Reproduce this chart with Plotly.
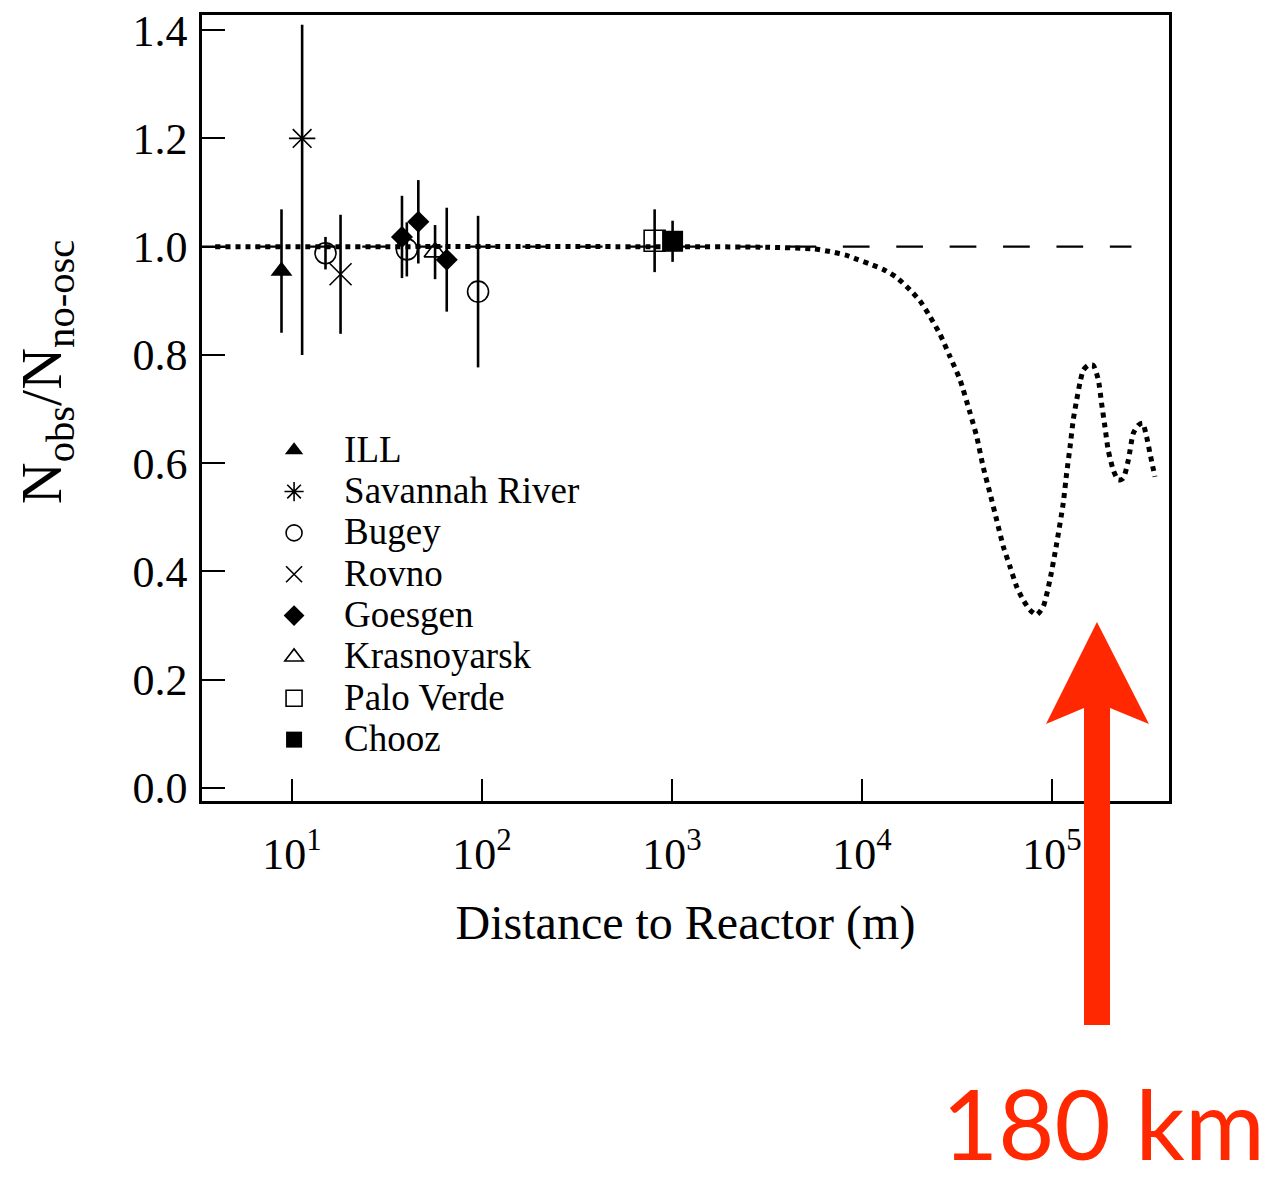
import plotly.graph_objects as go

# ---------------- data ----------------
experiments = ["ILL", "Savannah River", "Bugey", "Rovno", "Goesgen",
               "Krasnoyarsk", "Palo Verde", "Chooz"]

ill_x = [8.8];        ill_y = [0.955];  ill_err = [0.114]
sr_x = [11.3];        sr_y = [1.20];    sr_err_plus = [0.21]; sr_err_minus = [0.40]
bugey_x = [15.0, 40.2, 95.3]; bugey_y = [0.988, 0.995, 0.917]; bugey_err = [0.03, 0.05, 0.14]
rovno_x = [18.0];     rovno_y = [0.949]; rovno_err = [0.11]
goesgen_x = [37.9, 46.2, 65.2]; goesgen_y = [1.018, 1.046, 0.976]; goesgen_err = [0.076, 0.077, 0.096]
kras_x = [56.6];      kras_y = [0.99];   kras_err = [0.05]
pv_x = [810.0];       pv_y = [1.011];    pv_err = [0.058]
chooz_x = [1007.0];   chooz_y = [1.01];  chooz_err = [0.038]

# no-oscillation reference line
noosc_x = [3.36, 262000.0]
noosc_y = [1.0, 1.0]

# oscillation prediction curve (read point by point)
curve_x = [3.94, 1000, 3162, 5520, 6790, 8300, 9380, 11020, 12940, 15240, 17910,
           20180, 22800, 25760, 29040, 32810, 36980, 40180, 43450, 47210, 51170,
           55460, 60120, 65160, 70630, 76560, 82990, 89950, 97500, 105900, 114600,
           119400, 124500, 129400, 134900, 140300, 146200, 155200, 164800, 175400,
           182400, 190100, 197700, 210400, 223400, 237100, 252300, 267900, 284400,
           299900, 314800, 328100, 348300]
curve_y = [1.0, 1.0, 0.999, 0.996, 0.991, 0.984, 0.977, 0.968, 0.958, 0.943, 0.920,
           0.900, 0.871, 0.838, 0.797, 0.754, 0.694, 0.649, 0.593, 0.544, 0.495,
           0.446, 0.409, 0.372, 0.347, 0.329, 0.320, 0.335, 0.384, 0.452, 0.526,
           0.581, 0.630, 0.680, 0.717, 0.748, 0.772, 0.781, 0.781, 0.754,
           0.711, 0.667, 0.624, 0.587, 0.569, 0.572, 0.606, 0.655, 0.670,
           0.674, 0.649, 0.618, 0.575]

xtick_vals = [10, 100, 1000, 10000, 100000]
xtick_text = ["10<sup>1</sup>", "10<sup>2</sup>", "10<sup>3</sup>", "10<sup>4</sup>", "10<sup>5</sup>"]
ytick_vals = [0.0, 0.2, 0.4, 0.6, 0.8, 1.0, 1.2, 1.4]
ytick_text = ["0.0", "0.2", "0.4", "0.6", "0.8", "1.0", "1.2", "1.4"]

x_title = "Distance to Reactor (m)"
y_title = "N<sub>obs</sub>/N<sub>no-osc</sub>"
arrow_label = "180 km"

# ---------------- styling ----------------
SERIF = "Liberation Serif, Times New Roman, serif"
RED = "#FF2800"
LEG_FS = 37

def lname(s):
    return '<span style="font-size:%dpx">%s</span>' % (LEG_FS, s)

fig = go.Figure()

fig.add_trace(go.Scatter(x=noosc_x, y=noosc_y, mode="lines", showlegend=False,
                         line=dict(color="black", width=2.2, dash="26.7px,26.7px"),
                         hoverinfo="skip"))
fig.add_trace(go.Scatter(x=curve_x, y=curve_y, mode="lines", showlegend=False,
                         line=dict(color="black", width=5, dash="5px,5px", shape="spline", smoothing=0.6),
                         hoverinfo="skip"))

def err(arr, minus=None):
    d = dict(type="data", array=arr, visible=True, color="black", thickness=2.6, width=0)
    if minus is not None:
        d["symmetric"] = False
        d["arrayminus"] = minus
    return d

open_line = dict(color="black", width=1.6)

fig.add_trace(go.Scatter(x=ill_x, y=ill_y, mode="markers", name=lname(experiments[0]),
                         error_y=err(ill_err),
                         marker=dict(symbol="triangle-up", size=19, color="black")))
fig.add_trace(go.Scatter(x=sr_x, y=sr_y, mode="markers", name=lname(experiments[1]),
                         error_y=err(sr_err_plus, sr_err_minus),
                         marker=dict(symbol="asterisk-open", size=22, color="black", line=open_line)))
fig.add_trace(go.Scatter(x=bugey_x, y=bugey_y, mode="markers", name=lname(experiments[2]),
                         error_y=err(bugey_err),
                         marker=dict(symbol="circle-open", size=21, color="black", line=open_line)))
fig.add_trace(go.Scatter(x=rovno_x, y=rovno_y, mode="markers", name=lname(experiments[3]),
                         error_y=err(rovno_err),
                         marker=dict(symbol="x-thin-open", size=22, color="black", line=open_line)))
fig.add_trace(go.Scatter(x=goesgen_x, y=goesgen_y, mode="markers", name=lname(experiments[4]),
                         error_y=err(goesgen_err),
                         marker=dict(symbol="diamond", size=17, color="black")))
fig.add_trace(go.Scatter(x=kras_x, y=kras_y, mode="markers", name=lname(experiments[5]),
                         error_y=err(kras_err),
                         marker=dict(symbol="triangle-up-open", size=19, color="black", line=open_line)))
fig.add_trace(go.Scatter(x=pv_x, y=pv_y, mode="markers", name=lname(experiments[6]),
                         error_y=err(pv_err),
                         marker=dict(symbol="square-open", size=21, color="black", line=open_line)))
fig.add_trace(go.Scatter(x=chooz_x, y=chooz_y, mode="markers", name=lname(experiments[7]),
                         error_y=err(chooz_err),
                         marker=dict(symbol="square", size=21, color="black")))

fig.update_layout(
    width=1286, height=1180,
    margin=dict(l=202, r=117, t=15, b=379, autoexpand=False),
    paper_bgcolor="white", plot_bgcolor="white",
    font=dict(family=SERIF, color="black"),
    showlegend=True,
    legend=dict(x=0.0435, y=0.479, xanchor="left", yanchor="top",
                font=dict(family=SERIF, size=29.5, color="black"),
                itemwidth=90, bgcolor="rgba(0,0,0,0)", borderwidth=0,
                tracegroupgap=0),
    xaxis=dict(type="log", range=[0.526, 5.616], automargin=False,
               tickvals=xtick_vals, ticktext=xtick_text,
               ticks="inside", ticklen=22, tickwidth=2, tickcolor="black",
               showline=True, linecolor="black", linewidth=2.6, mirror=True,
               showgrid=False, zeroline=False,
               tickfont=dict(family=SERIF, size=44, color="black"),
               ticklabelstandoff=12,
               title=dict(text=x_title, font=dict(family=SERIF, size=48, color="black"),
                          standoff=28)),
    yaxis=dict(range=[-0.024, 1.428], automargin=False,
               tickvals=ytick_vals, ticktext=ytick_text,
               ticks="inside", ticklen=23, tickwidth=2.4, tickcolor="black",
               showline=True, linecolor="black", linewidth=2.6, mirror=True,
               showgrid=False, zeroline=False,
               tickfont=dict(family=SERIF, size=44, color="black"),
               ticklabelstandoff=3),
)

# y-axis title, placed where the reference shows it
fig.add_annotation(text=y_title, xref="paper", yref="paper", x=-0.161, y=0.546,
                   xanchor="center", yanchor="middle", textangle=-90, showarrow=False,
                   font=dict(family=SERIF, size=58, color="black"))

# red arrow (drawn in paper coordinates, outside the plot area at bottom right)
arrow_path = ("M 0.9255 0.2277 L 0.9793 0.0980 L 0.9390 0.1183 L 0.9390 -0.2850 "
              "L 0.9121 -0.2850 L 0.9121 0.1183 L 0.8728 0.0980 Z")
fig.add_shape(type="path", path=arrow_path, xref="paper", yref="paper",
              fillcolor=RED, line=dict(color=RED, width=0), layer="above")

fig.add_annotation(text=arrow_label, xref="paper", yref="paper", x=0.932, y=-0.4084,
                   xanchor="center", yanchor="middle", showarrow=False,
                   font=dict(family="Lato, Open Sans, sans-serif", size=97, color=RED))

fig.write_html("out.html")
